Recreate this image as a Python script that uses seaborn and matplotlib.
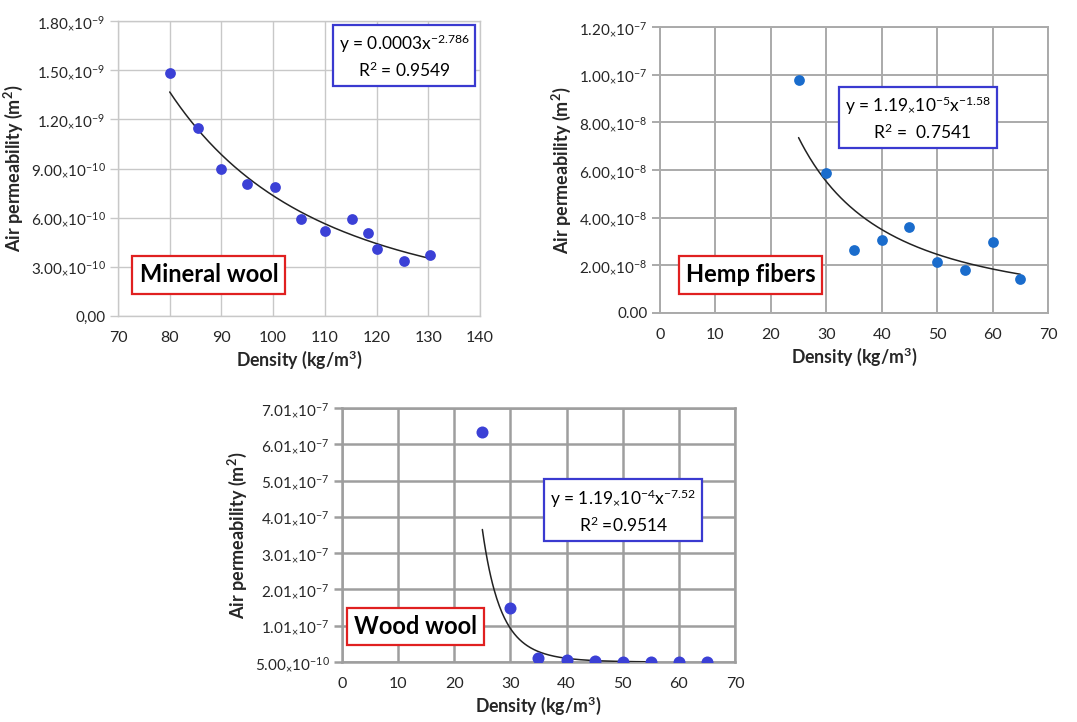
import numpy as np
import pandas as pd
import matplotlib
matplotlib.use("Agg")
import matplotlib.pyplot as plt
import seaborn as sns

# ---------------- data ----------------
mw_density = [80, 85.5, 90, 95, 100.3, 105.3, 110, 115.3, 118.3, 120, 125.3, 130.3]
mw_perm = [1.485e-9, 1.145e-9, 0.895e-9, 0.805e-9, 0.789e-9, 0.590e-9, 0.519e-9,
           0.592e-9, 0.508e-9, 0.411e-9, 0.338e-9, 0.372e-9]
mw_fit = (2.74e-4, -2.786, 80, 130)

hf_density = [25, 30, 35, 40, 45, 50, 55, 60, 65]
hf_perm = [9.76e-8, 5.87e-8, 2.63e-8, 3.08e-8, 3.61e-8, 2.14e-8, 1.79e-8, 2.98e-8, 1.44e-8]
hf_fit = (1.19e-5, -1.58, 25, 65)

ww_density = [25, 30, 35, 40, 45, 50, 55, 60, 65]
ww_perm = [6.35e-7, 1.48e-7, 1.16e-8, 7.0e-9, 3.0e-9, 1.4e-9, 6e-10, 5e-10, 5e-10]
ww_fit = (1.19e4, -7.52, 25, 55)

mw_yticks = [0, 3e-10, 6e-10, 9e-10, 1.2e-9, 1.5e-9, 1.8e-9]
mw_ylabels = ["0,00", ("3.00", "-10"), ("6.00", "-10"), ("9.00", "-10"),
              ("1.20", "-9"), ("1.50", "-9"), ("1.80", "-9")]
mw_xticks = [70, 80, 90, 100, 110, 120, 130, 140]

hf_yticks = [0, 2e-8, 4e-8, 6e-8, 8e-8, 1e-7, 1.2e-7]
hf_ylabels = ["0.00", ("2.00", "-8"), ("4.00", "-8"), ("6.00", "-8"), ("8.00", "-8"),
              ("1.00", "-7"), ("1.20", "-7")]
hf_xticks = [0, 10, 20, 30, 40, 50, 60, 70]

ww_yticks = [5e-10, 1.005e-7, 2.005e-7, 3.005e-7, 4.005e-7, 5.005e-7, 6.005e-7, 7.005e-7]
ww_ylabels = [("5.00", "-10"), ("1.01", "-7"), ("2.01", "-7"), ("3.01", "-7"),
              ("4.01", "-7"), ("5.01", "-7"), ("6.01", "-7"), ("7.01", "-7")]
ww_xticks = [0, 10, 20, 30, 40, 50, 60, 70]

# ---------------- style ----------------
sns.set_theme(style="white")
plt.rcParams["font.family"] = ["Lato", "DejaVu Sans"]
plt.rcParams["mathtext.fontset"] = "custom"
plt.rcParams["mathtext.rm"] = "Lato"
plt.rcParams["mathtext.it"] = "Lato:italic"
plt.rcParams["mathtext.bf"] = "Lato:bold"

W, H = 1077, 722
fig = plt.figure(figsize=(W / 100, H / 100), dpi=100)
fig.patch.set_facecolor("white")


def px_axes(l, t, r, b):
    return fig.add_axes([l / W, 1 - b / H, (r - l) / W, (b - t) / H])


def fmt(lab):
    if isinstance(lab, str):
        return lab
    m, e = lab
    return m + r"$\mathregular{{}_{\times}10^{" + e + r"}}$"


def panel(ax, x, y, fit, xticks, yticks, ylabels, color, gridc, gridw, name,
          eq, r2, namepos, eqpos, msize, ylim):
    df = pd.DataFrame({"Density": x, "Perm": y})
    a, b, x0, x1 = fit
    xs = np.linspace(x0, x1, 200)
    cf = pd.DataFrame({"Density": xs, "Perm": a * xs ** b})
    sns.lineplot(data=cf, x="Density", y="Perm", ax=ax, color="#222222", lw=1.1, zorder=3)
    sns.scatterplot(data=df, x="Density", y="Perm", ax=ax, color=color, s=msize,
                    edgecolor=color, linewidth=0, zorder=4)
    ax.set_xlim(xticks[0], xticks[-1])
    ax.set_ylim(*ylim)
    ax.set_xticks(xticks)
    ax.set_xticklabels([str(t) for t in xticks])
    ax.set_yticks(yticks)
    ax.set_yticklabels([fmt(l) for l in ylabels])
    ax.grid(True, color=gridc, lw=gridw)
    ax.set_axisbelow(True)
    for s in ax.spines.values():
        s.set_color(gridc)
        s.set_linewidth(gridw)
    ax.tick_params(axis="y", length=6, color=gridc, width=gridw, labelsize=11,
                   pad=3, left=True)
    ax.tick_params(axis="x", length=0, labelsize=11.5, pad=11, bottom=True)
    ax.set_xlabel("Density (kg/m$\\mathregular{^3}$)", fontsize=12.8, fontweight="bold",
                  labelpad=2)
    ax.set_ylabel("Air permeability (m$\\mathregular{^2}$)", fontsize=13,
                  fontweight="bold", labelpad=4)
    ax.text(namepos[0], namepos[1], name, transform=ax.transAxes, ha="center",
            va="center", fontsize=17, fontweight="bold", color="black", zorder=6,
            bbox=dict(boxstyle="square,pad=0.3", fc="white", ec="#e02020", lw=1.6))
    ax.text(eqpos[0], eqpos[1], eq + "\n" + r2, transform=ax.transAxes, ha="center",
            va="center", fontsize=12.5, color="black", zorder=6, linespacing=1.35,
            bbox=dict(boxstyle="square,pad=0.35", fc="white", ec="#3a3ad0", lw=1.6))


ax1 = px_axes(118, 21, 480, 316)
panel(ax1, mw_density, mw_perm, mw_fit, mw_xticks, mw_yticks, mw_ylabels,
      "#3b40d6", "#c8c8c8", 1.0, "Mineral wool",
      r"y = 0.0003x$\mathregular{^{-2.786}}$", r"R$\mathregular{^2}$ = 0.9549",
      (0.251, 0.139), (0.79, 0.88), 60, (0, 1.8e-9))

ax2 = px_axes(660, 27, 1048, 313)
panel(ax2, hf_density, hf_perm, hf_fit, hf_xticks, hf_yticks, hf_ylabels,
      "#1a6ccc", "#aaaaaa", 1.4, "Hemp fibers",
      r"y = 1.19$\mathregular{{}_{\times}10^{-5}x^{-1.58}}$", r"  R$\mathregular{^2}$ =  0.7541",
      (0.233, 0.133), (0.665, 0.68), 60, (0, 1.2e-7))

ax3 = px_axes(342, 408, 735, 662)
panel(ax3, ww_density, ww_perm, ww_fit, ww_xticks, ww_yticks, ww_ylabels,
      "#3b40d6", "#9e9e9e", 1.8, "Wood wool",
      r"y = 1.19$\mathregular{{}_{\times}10^{-4}x^{-7.52}}$", r"R$\mathregular{^2}$ =0.9514",
      (0.186, 0.14), (0.716, 0.594), 75, (5e-10, 7.005e-7))

fig.savefig("out.png", dpi=100, facecolor="white")
